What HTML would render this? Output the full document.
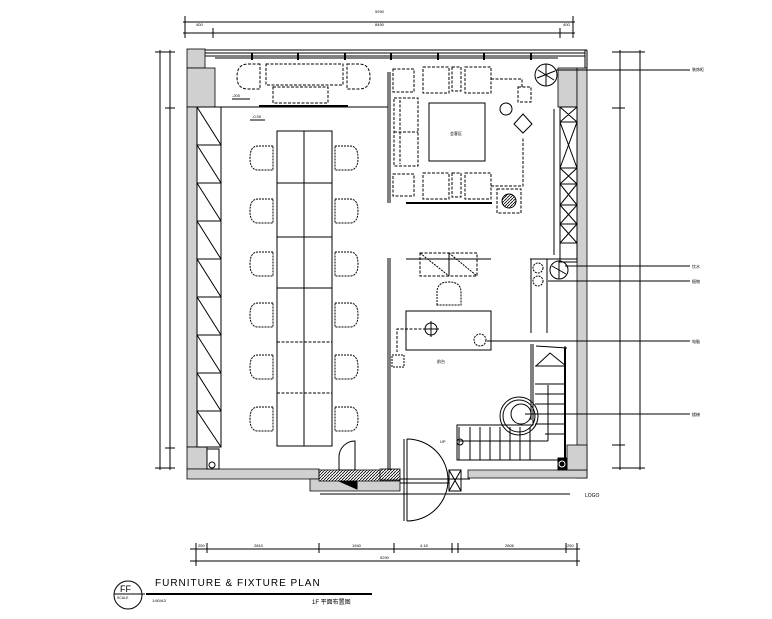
<!DOCTYPE html>
<html><head><meta charset="utf-8"><style>
html,body{margin:0;padding:0;background:#fff;width:772px;height:619px;overflow:hidden}
svg{display:block}
text{font-family:"Liberation Sans","Noto Sans CJK SC",sans-serif;fill:#000}
</style></head><body>
<svg width="772" height="619" viewBox="0 0 772 619" xmlns="http://www.w3.org/2000/svg">
<g stroke="#000" stroke-width="1" fill="none">
<!-- top dims -->
<line x1="183" y1="22" x2="575" y2="22"/><line x1="183" y1="33" x2="575" y2="33"/>
<line x1="185" y1="16" x2="185" y2="38"/><line x1="573" y1="16" x2="573" y2="38"/>
<line x1="213" y1="28" x2="213" y2="38"/><line x1="560" y1="28" x2="560" y2="38"/>
<!-- left dims -->
<line x1="160" y1="50" x2="160" y2="470"/><line x1="170" y1="50" x2="170" y2="470"/>
<line x1="155" y1="52" x2="175" y2="52"/><line x1="155" y1="468" x2="175" y2="468"/>
<line x1="165" y1="108" x2="175" y2="108"/><line x1="165" y1="448" x2="175" y2="448"/>
<!-- right dims -->
<line x1="620" y1="50" x2="620" y2="470"/><line x1="640" y1="50" x2="640" y2="470"/>
<line x1="612" y1="52" x2="645" y2="52"/><line x1="612" y1="468" x2="645" y2="468"/>
<line x1="612" y1="108" x2="625" y2="108"/><line x1="612" y1="445" x2="625" y2="445"/>
<!-- bottom dims -->
<line x1="190" y1="549" x2="580" y2="549"/><line x1="190" y1="561" x2="580" y2="561"/>
<g><line x1="196" y1="543" x2="196" y2="566"/><line x1="207" y1="543" x2="207" y2="553"/><line x1="319" y1="543" x2="319" y2="553"/><line x1="394" y1="543" x2="394" y2="553"/><line x1="452" y1="543" x2="452" y2="553"/><line x1="458" y1="543" x2="458" y2="553"/><line x1="566" y1="543" x2="566" y2="553"/><line x1="577" y1="543" x2="577" y2="566"/></g>
</g>
<g font-size="4">
<text x="375" y="13">9290</text><text x="196" y="26">400</text><text x="375" y="26">8490</text><text x="563" y="26">400</text>
<text x="254" y="547">2810</text><text x="352" y="547">1940</text><text x="420" y="547">4.18</text><text x="505" y="547">2806</text><text x="198" y="547">250</text><text x="567" y="547">250</text><text x="380" y="559">9290</text>
</g>
<!-- walls gray -->
<g fill="#d0d0d0" stroke="#000" stroke-width="0.8">
<rect x="187" y="49" width="18" height="19"/>
<rect x="187" y="68" width="28" height="39"/>
<rect x="187" y="107" width="10" height="340"/>
<rect x="187" y="447" width="20" height="22"/>
<path d="M187 469 H319 V479 H187 Z"/>
<path d="M310 479 H400 V491 H310 Z" />
<rect x="558" y="68" width="19" height="39"/>
<rect x="577" y="68" width="10" height="410"/>
<path d="M468 470 H587 V478 H468 Z"/>
<rect x="567" y="445" width="20" height="25"/>
</g>
<g fill="url(#h)" stroke="#000" stroke-width="0.8"><rect x="319" y="470" width="80" height="11"/><rect x="380" y="469" width="20" height="11"/></g>
<defs><pattern id="h" width="3" height="3" patternUnits="userSpaceOnUse"><rect width="3" height="3" fill="#fff"/><path d="M0 3L3 0" stroke="#000" stroke-width="0.8"/></pattern></defs>
<g stroke="#000" stroke-width="1" fill="none">
<!-- window top -->
<line x1="205" y1="50" x2="587" y2="50"/><line x1="205" y1="53" x2="585" y2="53"/><line x1="205" y1="56" x2="585" y2="56"/><line x1="215" y1="58" x2="558" y2="58"/>
<line x1="587" y1="50" x2="587" y2="68"/><line x1="585" y1="50" x2="585" y2="68"/>
<g stroke-width="2"><line x1="252" y1="53" x2="252" y2="60"/><line x1="298" y1="53" x2="298" y2="60"/><line x1="345" y1="53" x2="345" y2="60"/><line x1="391" y1="53" x2="391" y2="60"/><line x1="438" y1="53" x2="438" y2="60"/><line x1="484" y1="53" x2="484" y2="60"/><line x1="531" y1="53" x2="531" y2="60"/></g>
<!-- left cabinet -->
<rect x="197" y="107" width="24" height="340"/>
<g>
<path d="M197 107L221 145M197 145H221L197 145L221 183M197 183H221M197 183L221 221M197 221H221M197 221L221 259M197 259H221M197 259L221 297M197 297H221M197 297L221 335M197 335H221M197 335L221 373M197 373H221M197 373L221 411M197 411H221M197 411L221 447"/>
</g>
<rect x="207" y="449" width="12" height="20"/><circle cx="212" cy="465" r="3"/>
<line x1="221" y1="107" x2="388" y2="107"/>
<line x1="259" y1="106" x2="348" y2="106" stroke-width="2"/>
<!-- sofa top-left -->
<g stroke-dasharray="3,1.5">
<rect x="266" y="64" width="77" height="21"/><rect x="273" y="87" width="55" height="16"/>
<path d="M260 64 H248 Q237 64 237 77 Q237 89 248 89 H260 Z"/>
<path d="M347 64 H359 Q370 64 370 77 Q370 89 359 89 H347 Z"/>
</g>
<line x1="232" y1="99" x2="250" y2="99"/><line x1="250" y1="120" x2="265" y2="120"/>
<!-- table -->
<rect x="277" y="131" width="55" height="315"/>
<line x1="304" y1="131" x2="304" y2="446"/>
<line x1="277" y1="183" x2="332" y2="183"/><line x1="277" y1="237" x2="332" y2="237"/><line x1="277" y1="288" x2="332" y2="288"/>
<line x1="277" y1="342" x2="332" y2="342" stroke-dasharray="3,1.5"/><line x1="277" y1="393" x2="332" y2="393" stroke-dasharray="3,1.5"/><line x1="277" y1="446" x2="332" y2="446" stroke-dasharray="3,1.5"/>
<g stroke-dasharray="2,1">
<path d="M273 146 H258 Q250 146 250 158 Q250 170 258 170 H273 Z"/>
<path d="M273 199 H258 Q250 199 250 211 Q250 223 258 223 H273 Z"/>
<path d="M273 252 H258 Q250 252 250 264 Q250 276 258 276 H273 Z"/>
<path d="M273 303 H258 Q250 303 250 315 Q250 327 258 327 H273 Z"/>
<path d="M273 355 H258 Q250 355 250 367 Q250 379 258 379 H273 Z"/>
<path d="M273 407 H258 Q250 407 250 419 Q250 431 258 431 H273 Z"/>
<path d="M335 146 H350 Q358 146 358 158 Q358 170 350 170 H335 Z"/>
<path d="M335 199 H350 Q358 199 358 211 Q358 223 350 223 H335 Z"/>
<path d="M335 252 H350 Q358 252 358 264 Q358 276 350 276 H335 Z"/>
<path d="M335 303 H350 Q358 303 358 315 Q358 327 350 327 H335 Z"/>
<path d="M335 355 H350 Q358 355 358 367 Q358 379 350 379 H335 Z"/>
<path d="M335 407 H350 Q358 407 358 419 Q358 431 350 431 H335 Z"/>
</g>
<!-- partition -->
<line x1="388" y1="72" x2="388" y2="203"/><line x1="390" y1="72" x2="390" y2="203"/>
<line x1="388" y1="258" x2="388" y2="470"/><line x1="390" y1="258" x2="390" y2="470"/>
<!-- lounge -->
<g stroke-dasharray="3,1.5">
<rect x="393" y="69" width="21" height="23"/><rect x="423" y="67" width="26" height="26"/><rect x="452" y="67" width="9" height="24"/><rect x="465" y="67" width="26" height="26"/>
<rect x="393" y="174" width="21" height="22"/><rect x="423" y="173" width="26" height="26"/><rect x="452" y="173" width="9" height="24"/><rect x="465" y="173" width="26" height="26"/>
<rect x="394" y="98" width="24" height="68"/><line x1="394" y1="132" x2="418" y2="132"/><line x1="400" y1="100" x2="400" y2="164"/>
<path d="M491 79 H522 V87"/><rect x="518" y="87" width="13" height="15"/>
<path d="M491 186 H523 V138"/>
<rect x="497" y="189" width="24" height="24"/>
</g>
<rect x="429" y="103" width="56" height="58"/>
<circle cx="506" cy="109" r="6"/>
<path d="M523 114 L532 124 L523 133 L514 124 Z"/>
<line x1="406" y1="203" x2="492" y2="203" stroke-width="2"/>
<circle cx="509" cy="201" r="7" fill="url(#h)"/>
<circle cx="546" cy="75" r="11"/><path d="M538 70L554 80M546 64V86M537 78L555 71"/>
<!-- right cabinet -->
<rect x="560" y="107" width="17" height="155"/>
<path d="M560 107L577 122M577 107L560 122M560 122H577M560 122L577 168M577 122L560 168M560 168H577M560 168L577 184M577 168L560 184M560 184H577M560 184L577 205M577 184L560 205M560 205H577M560 205L577 224M577 205L560 224M560 224H577M560 224L577 243M577 224L560 243M560 243H577"/>
<line x1="554" y1="109" x2="554" y2="255"/>
<line x1="530" y1="259" x2="577" y2="259"/><line x1="531" y1="259" x2="531" y2="333"/><line x1="547" y1="259" x2="547" y2="333"/>
<circle cx="538" cy="268" r="5" stroke-dasharray="2,1"/><circle cx="538" cy="281" r="5" stroke-dasharray="2,1"/>
<circle cx="559" cy="270" r="9"/><path d="M552 266L566 274M559 261V279"/>
<!-- reception -->
<line x1="406" y1="259" x2="491" y2="259"/>
<rect x="420" y="253" width="57" height="23" stroke-dasharray="3,1.5"/><path d="M420 253L449 276M449 253L477 276" stroke-dasharray="2,1"/><line x1="449" y1="253" x2="449" y2="276"/>
<path d="M437 305 V292 Q437 282 449 282 Q461 282 461 292 V305 Z" stroke-dasharray="2,1"/>
<path d="M406 343 V311 H491 V350 H406 V343" />
<circle cx="431" cy="329" r="6"/><path d="M431 321V337M423 329H439"/>
<circle cx="480" cy="340" r="6" stroke-dasharray="2,1"/>
<path d="M426 329 H397 V352" stroke-dasharray="3,1.5"/><rect x="392" y="355" width="12" height="12" stroke-dasharray="2,1"/>
<!-- stairs -->
<path d="M533 344 V425 H457 V460 H565 V346"/>
<path d="M531 344 V420"/>
<line x1="536" y1="346" x2="567" y2="348"/>
<path d="M536 366 L550 353 L566 366"/>
<g><line x1="535" y1="366" x2="565" y2="366"/><line x1="535" y1="384" x2="565" y2="384"/><line x1="535" y1="394" x2="565" y2="394"/><line x1="535" y1="404" x2="565" y2="404"/><line x1="535" y1="414" x2="565" y2="414"/><line x1="535" y1="424" x2="565" y2="424"/><line x1="545" y1="434" x2="565" y2="434"/>
<line x1="459" y1="427" x2="459" y2="460"/><line x1="470" y1="427" x2="470" y2="460"/><line x1="480" y1="427" x2="480" y2="460"/><line x1="490" y1="427" x2="490" y2="460"/><line x1="500" y1="427" x2="500" y2="460"/><line x1="510" y1="427" x2="510" y2="460"/><line x1="520" y1="427" x2="520" y2="460"/><line x1="530" y1="427" x2="530" y2="460"/>
<line x1="548" y1="385" x2="548" y2="441"/><line x1="459" y1="441" x2="548" y2="441"/></g>
<line x1="565" y1="348" x2="565" y2="462" stroke-width="2"/>
<circle cx="519" cy="416" r="19"/><circle cx="519" cy="416" r="16"/><circle cx="521" cy="414" r="10"/>
<rect x="558" y="458" width="9" height="12" fill="#000"/><circle cx="562" cy="464" r="3" stroke="#fff"/>
<circle cx="460" cy="442" r="3"/>
<!-- doors -->
<path d="M404 439 V521 M407 439 V521 M407 439 A41 41 0 0 1 407 521"/>
<path d="M339 470 V457 A16 16 0 0 1 355 441 V470"/><path d="M339 470 H355 M339 481 L357 489 V481 Z" fill="#000"/>
<rect x="449" y="470" width="12" height="21"/><path d="M449 470L461 491M461 470L449 491"/>
<line x1="400" y1="479" x2="470" y2="479"/><line x1="400" y1="483" x2="449" y2="483"/>
<line x1="320" y1="494" x2="570" y2="494"/>
<!-- leaders -->
<line x1="555" y1="70" x2="690" y2="70"/>
<line x1="565" y1="266" x2="690" y2="266"/><line x1="548" y1="281" x2="690" y2="281"/>
<line x1="487" y1="341" x2="690" y2="341"/><line x1="525" y1="414" x2="690" y2="414"/>
<!-- title -->
<circle cx="128" cy="595" r="14"/>
<line x1="114" y1="594" x2="145" y2="594"/>
<line x1="146" y1="594" x2="372" y2="594" stroke-width="2"/>
</g>
<g font-size="4">
<text x="692" y="71">装饰柜</text><text x="692" y="268">饮水</text><text x="692" y="283">植物</text><text x="692" y="343">电脑</text><text x="692" y="416">楼梯</text>
<text x="585" y="497" font-size="5">LOGO</text>
<text x="450" y="135">会客区</text><text x="437" y="363">前台</text><text x="440" y="443">UP</text>
<text x="232" y="97">-200</text><text x="252" y="118">-0.00</text>
</g>
<text x="155" y="586" font-size="10" letter-spacing="1">FURNITURE &amp; FIXTURE PLAN</text>
<text x="120" y="592" font-size="9">FF</text>
<text x="117" y="599" font-size="3.5">SCALE</text>
<text x="152" y="602" font-size="4">1:60/A3</text>
<text x="312" y="604" font-size="6">1F 平面布置图</text>
</svg>
</body></html>
